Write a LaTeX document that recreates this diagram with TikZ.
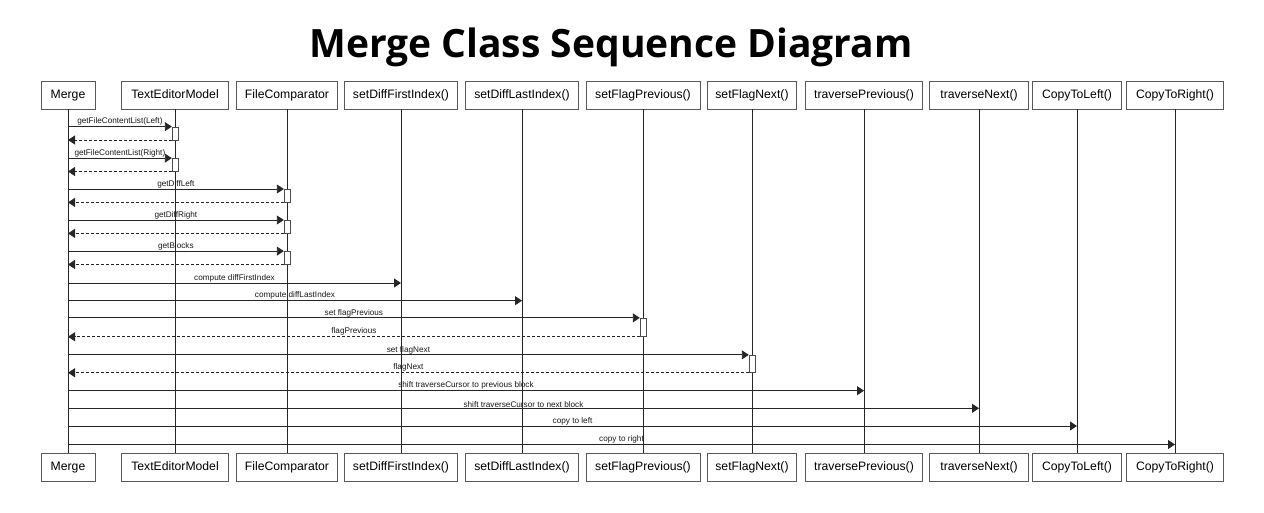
\documentclass[tikz,border=0pt]{standalone}
\usepackage{fontspec}
\setmainfont{Liberation Sans}
\newfontfamily\titlefont{Open Sans}
\usetikzlibrary{positioning, arrows.meta, calc}

\begin{document}
\begin{tikzpicture}[x=1pt, y=-1pt,
  obj/.style={draw=black!65, fill=white, minimum height=28pt, inner sep=0pt, text height=9pt, text depth=2.6pt, font=\fontsize{12.2}{14}\selectfont},
  act/.style={draw=black!70, fill=white, minimum width=6pt, inner sep=0pt},
  msg/.style={draw=black!85, line width=0.9pt, -{Triangle[length=7pt, width=9pt]}},
  ret/.style={msg, dash pattern=on 3pt off 2pt},
  lbl/.style={font=\fontsize{8.2}{9}\selectfont, above, inner sep=0.6pt, text=black!90}]
  \useasboundingbox (0,0) rectangle (1264,513);
  \node[font=\titlefont\bfseries\fontsize{39}{44}\selectfont, anchor=base] (title) at (611,58) {Merge Class Sequence Diagram};
  \foreach \n/\x/\w/\t in {m/68/54/Merge, tem/175/107/TextEditorModel, fc/287/101/FileComparator,
      dfi/401/113/setDiffFirstIndex(), dli/522/113/setDiffLastIndex(), sfp/643/114/setFlagPrevious(),
      sfn/752/89/setFlagNext(), tp/864/117/traversePrevious(), tn/979/99/traverseNext(),
      ctl/1077/89/CopyToLeft(), ctr/1175/97/CopyToRight()} {
    \node[obj, minimum width=\w pt] (\n) at (\x,95) {\t};
    \node[obj, minimum width=\w pt] (\n-b) at (\x,467) {\t};
    \draw[black!85] (\n) -- (\n-b);
  }
  \foreach \t/\y/\h/\l/\r [count=\i] in {tem/133.3/13/getFileContentList(Left)/, tem/164.8/13/getFileContentList(Right)/,
      fc/195.7/13/getDiffLeft/, fc/226.7/13/getDiffRight/, fc/257.8/13/getBlocks/,
      sfp/327.3/18.5/set flagPrevious/flagPrevious, sfn/363.8/17.5/set flagNext/flagNext} {
    \node[act, minimum height=\h pt] (a\i) at (\t |- 0,\y) {};
    \draw[msg] (m |- a\i.north west) -- node[lbl] {\l} (a\i.north west);
    \draw[ret] (a\i.south west) -- node[lbl] {\r} (m |- a\i.south west);
  }
  \foreach \t/\y/\l in {dfi/283/compute diffFirstIndex, dli/300.7/compute diffLastIndex,
      tp/390.7/shift traverseCursor to previous block, tn/408.3/shift traverseCursor to next block,
      ctl/426/copy to left, ctr/444.5/copy to right}
    \draw[msg] (m |- 0,\y) -- node[lbl] {\l} (\t |- 0,\y);
\end{tikzpicture}
\end{document}
